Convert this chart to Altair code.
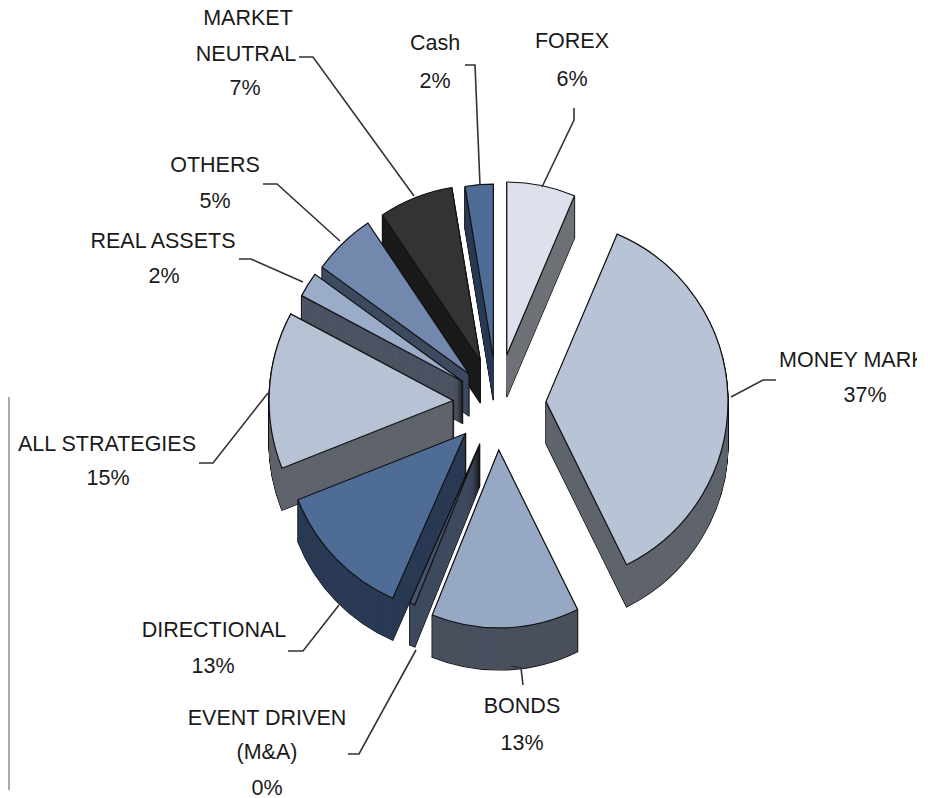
import math
import altair as alt
import pandas as pd

# ---- chart values (clockwise from 12 o'clock) ----
categories = ["FOREX", "MONEY MARKET", "BONDS", "EVENT DRIVEN (M&A)", "DIRECTIONAL",
              "ALL STRATEGIES", "REAL ASSETS", "OTHERS", "MARKET NEUTRAL", "Cash"]
shares = [6.4, 36.3, 13.4, 0.5, 12.4, 13.8, 2.2, 5.6, 6.8, 2.6]
percent_labels = ["6%", "37%", "13%", "0%", "13%", "15%", "2%", "5%", "7%", "2%"]

# ---- styling and layout of the slices ----
top_colors = ["#DCE1EB", "#B8C3D6", "#97A8C5", "#46536B", "#4F6C97",
              "#B7C2D5", "#9BACC8", "#7388AD", "#333333", "#4F6C97"]
wall_colors = ["#6F7277", "#5F646C", "#4A505E", "#3F4A5F", "#2A3A54",
               "#5F646C", "#4D5362", "#3D4A60", "#1A1A1A", "#2A3A54"]
explode = [49, 49, 47, 44, 44, 44, 40, 40, 45, 45]
radii = [173, 182, 178, 174, 180, 184, 183, 182, 176, 174]
paint_order = [9, 8, 7, 6, 5, 4, 3, 2, 0, 1]
CENTER = (496.0, 403.0)
DEPTH = 42

total = sum(shares)
spans, acc = [], 0.0
for s in shares:
    spans.append((acc / total * 2 * math.pi, (acc + s) / total * 2 * math.pi))
    acc += s

rows = []
for i in paint_order:
    t0, t1 = spans[i]
    mid = (t0 + t1) / 2
    cx = CENTER[0] + explode[i] * math.sin(mid)
    cy = CENTER[1] - explode[i] * math.cos(mid)
    base = dict(slice=categories[i], cx=cx, t0=t0, t1=t1, r=radii[i])
    for d in range(DEPTH, 0, -1):          # black silhouette of the extrusion
        rows.append(dict(base, cy=cy + d, fill="#111111", stroke="#111111", sw=1.3))
    for d in range(DEPTH, 0, -1):          # wall colour
        rows.append(dict(base, cy=cy + d, fill=wall_colors[i], stroke="#111111", sw=0))
    rows.append(dict(base, cy=cy, fill=top_colors[i], stroke="#111111", sw=1.2))
slices = pd.DataFrame(rows)

x_scale = alt.Scale(domain=[8, 916], nice=False, zero=False)
y_scale = alt.Scale(domain=[8, 790], nice=False, zero=False, reverse=True)
X = alt.X("x:Q", scale=x_scale, axis=None)
Y = alt.Y("y:Q", scale=y_scale, axis=None)

arcs = alt.Chart(slices).mark_arc().encode(
    x=alt.X("cx:Q", scale=x_scale, axis=None),
    y=alt.Y("cy:Q", scale=y_scale, axis=None),
    theta=alt.Theta("t0:Q", scale=None, stack=None),
    theta2=alt.Theta2("t1:Q"),
    radius=alt.Radius("r:Q", scale=None),
    fill=alt.Fill("fill:N", scale=None),
    stroke=alt.Stroke("stroke:N", scale=None),
    strokeWidth=alt.StrokeWidth("sw:Q", scale=None),
)

# ---- leader lines ----
leaders = {
    "MARKET NEUTRAL": [(298, 57), (312, 57), (413, 196)],
    "Cash": [(464, 65), (474, 65), (479, 185)],
    "FOREX": [(573, 108), (573, 120), (541, 187)],
    "OTHERS": [(262, 184), (276, 184), (339, 241)],
    "REAL ASSETS": [(238, 259), (250, 259), (302, 282)],
    "ALL STRATEGIES": [(198, 463), (212, 463), (267, 393)],
    "DIRECTIONAL": [(287, 651), (302, 651), (338, 605)],
    "EVENT DRIVEN": [(347, 754), (358, 754), (415, 650)],
    "BONDS": [(510, 666), (520, 668), (522, 685)],
    "MONEY MARKET": [(730, 397), (762, 380), (775, 380)],
}
leader_df = pd.DataFrame([
    dict(name=k, step=j, x=p[0], y=p[1]) for k, pts in leaders.items() for j, p in enumerate(pts)
])
lines = alt.Chart(leader_df).mark_line(color="#333333", strokeWidth=1.6).encode(
    x=X, y=Y, detail="name:N", order="step:Q"
)

# ---- label texts ----
label_rows = [
    ("MARKET", 247, 19), ("NEUTRAL", 245, 55), (percent_labels[8], 244, 89),
    ("Cash", 434, 44), (percent_labels[9], 434, 82),
    ("FOREX", 571, 42), (percent_labels[0], 571, 80),
    ("OTHERS", 214, 166), (percent_labels[7], 214, 202),
    ("REAL ASSETS", 162, 242), (percent_labels[6], 163, 277),
    ("ALL STRATEGIES", 106, 445), (percent_labels[5], 107, 479),
    (percent_labels[1], 864, 396),
    ("DIRECTIONAL", 213, 631), (percent_labels[4], 212, 667),
    ("EVENT DRIVEN", 266, 719), ("(M&A)", 266, 753), (percent_labels[3], 266, 789),
    ("BONDS", 521, 707), (percent_labels[2], 521, 744),
]
label_df = pd.DataFrame(label_rows, columns=["text", "x", "y"])
FONT = dict(font="Liberation Sans", fontSize=21.5, color="#1A1A1A")
texts = alt.Chart(label_df).mark_text(align="center", baseline="middle", **FONT).encode(
    x=X, y=Y, text="text:N"
)
clipped = alt.Chart(pd.DataFrame([dict(text=categories[1], x=778, y=361)])).mark_text(
    align="left", baseline="middle", clip=True, **FONT
).encode(x=X, y=Y, text="text:N")

# ---- fragment of a neighbouring frame at the left edge ----
frame = alt.Chart(pd.DataFrame([dict(x=8, y=397, y2=790)])).mark_rule(
    color="#AAAAAA", strokeWidth=2
).encode(x=X, y=Y, y2="y2:Q")

chart = alt.layer(frame, arcs, lines, texts, clipped).properties(
    width=908, height=782, padding=0
).configure_view(stroke=None)

chart.save("out.html", embed_options={"renderer": "svg", "actions": False})
